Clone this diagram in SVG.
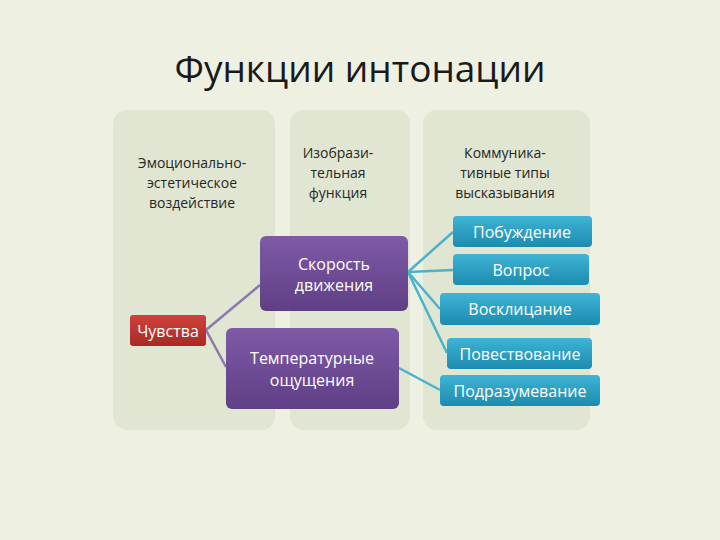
<svg xmlns="http://www.w3.org/2000/svg" width="720" height="540" viewBox="0 0 720 540">
<defs>
<linearGradient id="pu" x1="0" y1="0" x2="0" y2="1"><stop offset="0" stop-color="#7f5aa6"/><stop offset="1" stop-color="#5f3f86"/></linearGradient>
<linearGradient id="bl" x1="0" y1="0" x2="0" y2="1"><stop offset="0" stop-color="#3fb4d4"/><stop offset="1" stop-color="#1c8bb0"/></linearGradient>
<linearGradient id="rd" x1="0" y1="0" x2="0" y2="1"><stop offset="0" stop-color="#d0413a"/><stop offset="1" stop-color="#a82a25"/></linearGradient>
</defs>
<style>
text{font-family:"Open Sans","DejaVu Sans",sans-serif;text-anchor:middle}
.col{fill:#e0e6d2}
.dk{fill:#262626;font-size:14px}
.wt{fill:#fff;font-size:16px}
.pl{stroke:#8e78ac;stroke-width:2.5;fill:none}
.bln{stroke:#49b3cc;stroke-width:2.5;fill:none}
</style>
<rect width="720" height="540" fill="#eef0e2"/>
<text x="360" y="82" font-size="37" fill="#1a1a1a">Функции интонации</text>
<g id="columns">
<rect class="col" x="113" y="110" width="162" height="320" rx="14"/>
<rect class="col" x="290" y="110" width="120" height="320" rx="14"/>
<rect class="col" x="423" y="110" width="167" height="320" rx="14"/>
</g>
<g id="headers">
<text class="dk" x="192" y="168">Эмоционально-</text>
<text class="dk" x="192" y="188">эстетическое</text>
<text class="dk" x="192" y="208">воздействие</text>
<text class="dk" x="338" y="158" font-size="15">Изобрази-</text>
<text class="dk" x="338" y="178" font-size="15">тельная</text>
<text class="dk" x="338" y="198" font-size="15">функция</text>
<text class="dk" x="505" y="158" font-size="15">Коммуника-</text>
<text class="dk" x="505" y="178" font-size="15">тивные типы</text>
<text class="dk" x="505" y="198" font-size="15">высказывания</text>
</g>
<g id="connectors">
<path class="pl" d="M206 330 L260 285"/>
<path class="pl" d="M206 330 L226 367"/>
<path class="bln" d="M408 272 L453 232"/>
<path class="bln" d="M408 272 L453 270"/>
<path class="bln" d="M408 272 L440 309"/>
<path class="bln" d="M408 272 L447 353"/>
<path class="bln" d="M399 368 L440 390"/>
</g>
<g id="chuvstva"><rect x="130" y="315" width="76" height="31" rx="3" fill="url(#rd)"/><text class="wt" x="168" y="337">Чувства</text></g>
<g id="skorost"><rect x="260" y="236" width="148" height="75" rx="6" fill="url(#pu)"/><text class="wt" x="334" y="270">Скорость</text><text class="wt" x="334" y="291">движения</text></g>
<g id="temp"><rect x="226" y="328" width="173" height="81" rx="6" fill="url(#pu)"/><text class="wt" x="312" y="364">Температурные</text><text class="wt" x="312" y="386">ощущения</text></g>
<g id="pob"><rect x="453" y="216" width="139" height="31" rx="4" fill="url(#bl)"/><text class="wt" x="522" y="238">Побуждение</text></g>
<g id="vop"><rect x="453" y="254" width="136" height="31" rx="4" fill="url(#bl)"/><text class="wt" x="521" y="276">Вопрос</text></g>
<g id="vos"><rect x="440" y="293" width="160" height="32" rx="4" fill="url(#bl)"/><text class="wt" x="520" y="315">Восклицание</text></g>
<g id="pov"><rect x="447" y="338" width="145" height="31" rx="4" fill="url(#bl)"/><text class="wt" x="520" y="360" font-size="15.5">Повествование</text></g>
<g id="pod"><rect x="440" y="375" width="160" height="31" rx="4" fill="url(#bl)"/><text class="wt" x="520" y="397" font-size="15.5">Подразумевание</text></g>
</svg>
